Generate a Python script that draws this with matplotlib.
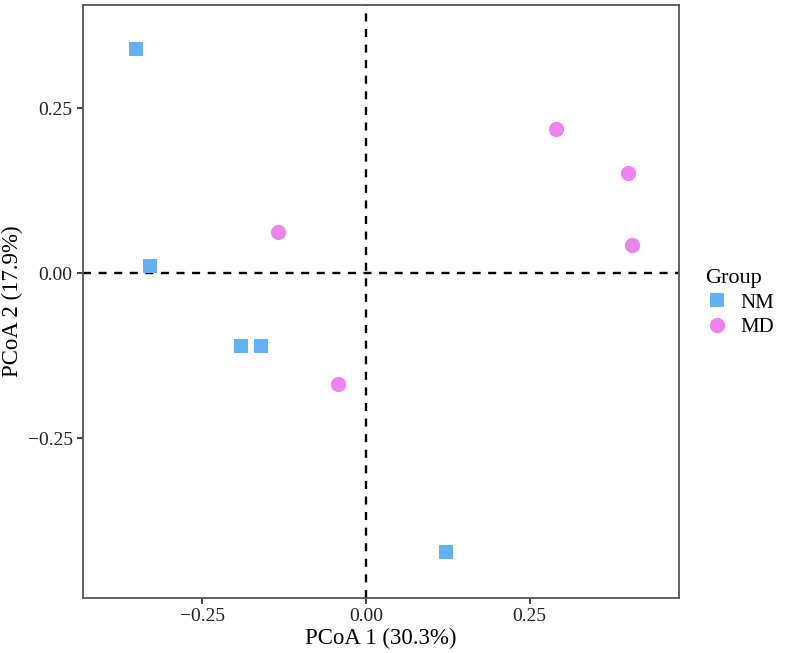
import matplotlib
matplotlib.use("Agg")
import matplotlib.pyplot as plt
from matplotlib.lines import Line2D

# PCoA scores
nm_x = [-0.351, -0.329, -0.190, -0.160, 0.123]
nm_y = [0.339, 0.011, -0.111, -0.111, -0.422]
md_x = [-0.135, -0.043, 0.290, 0.400, 0.407]
md_y = [0.062, -0.168, 0.218, 0.152, 0.043]
ticks = [-0.25, 0.00, 0.25]
tick_labels = ["\u22120.25", "0.00", "0.25"]
groups = ["NM", "MD"]

plt.rcParams['font.family'] = ['Liberation Serif', 'DejaVu Serif']

fig = plt.figure(figsize=(7.89, 6.53), dpi=100)
ax = fig.add_axes([83 / 789, 55 / 653, 596 / 789, 593 / 653])

ax.axhline(0, color='black', lw=1.7, ls=(0, (3.4, 3.2)), zorder=1)
ax.axvline(0, color='black', lw=1.7, ls=(0, (3.4, 3.2)), zorder=1)
ax.scatter(nm_x, nm_y, marker='s', s=95, color='#63B0F8', linewidths=0, zorder=3)
ax.scatter(md_x, md_y, marker='o', s=120, color='#EE82EE', linewidths=0, zorder=3)

ax.set_xlim(-0.432, 0.478)
ax.set_ylim(-0.492, 0.406)
ax.set_xticks(ticks)
ax.set_xticklabels(tick_labels)
ax.set_yticks(ticks)
ax.set_yticklabels(tick_labels)
ax.tick_params(labelsize=14, length=4, width=1.3, color='#333333', labelcolor='#222222')
for sp in ax.spines.values():
    sp.set_color('#555555')
    sp.set_linewidth(1.3)
ax.set_xlabel("PCoA 1 (30.3%)", fontsize=16.5, labelpad=2)
ax.set_ylabel("PCoA 2 (17.9%)", fontsize=16.5, labelpad=3)

handles = [
    Line2D([], [], marker='s', ls='none', color='#63B0F8', markersize=10, markeredgewidth=0),
    Line2D([], [], marker='o', ls='none', color='#EE82EE', markersize=11, markeredgewidth=0),
]
fig.legend(handles, groups, title="Group", loc='upper left', bbox_to_anchor=(686 / 789, 1 - 250 / 653),
           frameon=False, fontsize=15, title_fontsize=16, handletextpad=0.5, labelspacing=0.25,
           handlelength=1.2, alignment='left')

fig.savefig("out.png", dpi=100)
